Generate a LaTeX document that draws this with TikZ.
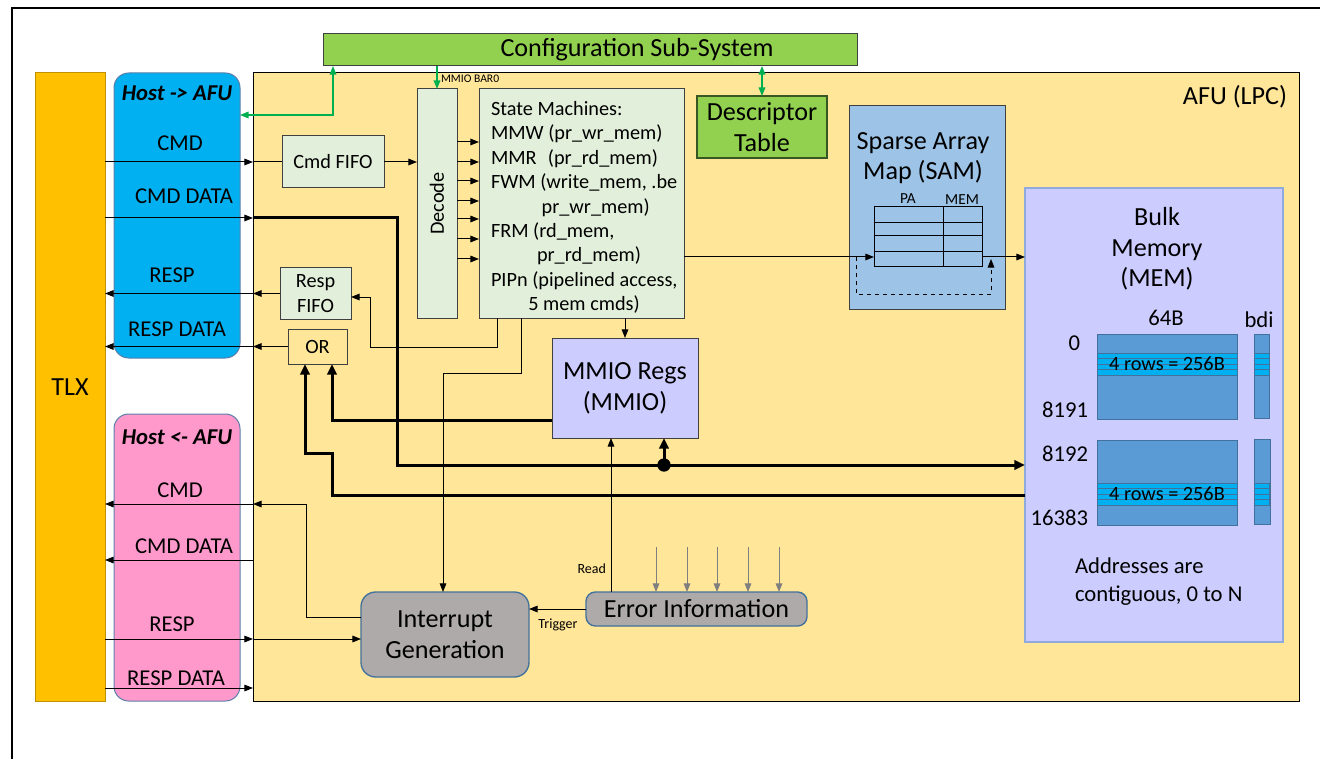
\documentclass[tikz,border=0pt]{standalone}
\usepackage{fontspec}
\setmainfont{Carlito}
\usetikzlibrary{arrows.meta}

\definecolor{tlx-orange}{RGB}{255,192,0}
\definecolor{tlx-edge}{RGB}{191,144,0}
\definecolor{host-blue}{RGB}{0,176,240}
\definecolor{host-pink}{RGB}{255,153,204}
\definecolor{lane-edge}{RGB}{91,127,170}
\definecolor{afu-yellow}{RGB}{255,230,153}
\definecolor{cfg-green}{RGB}{146,208,80}
\definecolor{cfg-edge}{RGB}{56,87,35}
\definecolor{link-green}{RGB}{0,176,80}
\definecolor{pale-green}{RGB}{226,239,218}
\definecolor{box-edge}{RGB}{64,64,64}
\definecolor{mmio-lilac}{RGB}{204,204,255}
\definecolor{sam-blue}{RGB}{157,195,230}
\definecolor{blk-blue}{RGB}{91,155,213}
\definecolor{blk-edge}{RGB}{65,113,156}
\definecolor{mem-edge}{RGB}{143,170,220}
\definecolor{intr-gray}{RGB}{174,170,170}
\definecolor{err-arrow}{RGB}{127,127,127}

\newcommand\hugetxt{\fontsize{19.6}{23}\selectfont}
\newcommand\numtxt{\fontsize{17}{21}\selectfont}
\newcommand\lanetxt{\fontsize{17}{20}\selectfont}
\newcommand\boxtxt{\fontsize{15.2}{18.3}\selectfont}
\newcommand\tabtxt{\fontsize{11.5}{13}\selectfont}
\newcommand\tagtxt{\fontsize{10.5}{12}\selectfont}
\newcommand\tinytxt{\fontsize{8.7}{10}\selectfont}

\begin{document}
\begin{tikzpicture}[
        x=0.75pt, y=-0.75pt,
        >={Triangle[length=6.5pt,width=5pt]},
        every node/.style={inner sep=0pt, outer sep=0pt, align=center},
        sz/.style 2 args={minimum width=#1*0.75pt, minimum height=#2*0.75pt},
        box/.style={draw=box-edge, line width=0.75pt, fill=#1},
        lane/.style={draw=lane-edge, line width=0.75pt, fill=#1, rounded corners=11pt},
        soft/.style={draw=blk-edge, line width=1pt, fill=intr-gray, rounded corners=#1},
        wire/.style={line width=0.75pt},
        bus/.style={line width=2.25pt},
        bushead/.style={-{Triangle[length=8pt,width=7pt]}},
        link/.style={draw=link-green, line width=1.1pt},
        feed/.style={draw=err-arrow, line width=0.75pt},
    ]
    \useasboundingbox (0,0) rectangle (1320,759);
    \draw[line width=1.6pt] (12,759) -- (12,8) -- (1320,8);

    % host side
    \node[draw=black, line width=0.75pt, fill=afu-yellow, sz={1046}{628}] (afu) at (776,387) {};
    \node[anchor=east, font=\hugetxt] (afu-title) at (1287,97) {AFU (LPC)};
    \node[draw=tlx-edge, line width=0.75pt, fill=tlx-orange, sz={70}{628}, font=\hugetxt] (tlx) at (70,387) {TLX};
    \node[lane=host-blue, sz={126}{285}] (hostin) at (177,215.5) {};
    \node[lane=host-pink, sz={126}{287}] (hostout) at (177,557.5) {};
    \node[font=\lanetxt\bfseries\itshape] (hostin-title) at (177,93) {Host -> AFU};
    \node[font=\lanetxt\bfseries\itshape] (hostout-title) at (177,437) {Host <- AFU};
    \node[font=\lanetxt] at (180,143) {CMD};
    \node[font=\lanetxt] at (184,196) {CMD DATA};
    \node[font=\lanetxt] at (172,275) {RESP};
    \node[font=\lanetxt] at (177,329) {RESP DATA};
    \node[font=\lanetxt] at (180,490) {CMD};
    \node[font=\lanetxt] at (184,546) {CMD DATA};
    \node[font=\lanetxt] at (172,624) {RESP};
    \node[font=\lanetxt] at (176,678) {RESP DATA};

    % config
    \node[box=cfg-green, sz={534}{32}] (config) at (590,50) {};
    \node[font=\hugetxt] (config-title) at (637,50) {Configuration Sub-System};
    \node[draw=cfg-edge, line width=1pt, fill=cfg-green, sz={130}{62}, font=\hugetxt] (desc) at (762,127) {Descriptor\\Table};

    % command path
    \node[box=pale-green, sz={102}{52}, font=\boxtxt] (cmdfifo) at (333,162) {Cmd FIFO};
    \node[box=pale-green, sz={71}{51}, font=\boxtxt] (respfifo) at (315.5,293.5) {Resp\\FIFO};
    \node[draw=box-edge, line width=0.75pt, sz={59}{35}, font=\boxtxt] (or) at (317.5,346.5) {OR};
    \node[box=pale-green, sz={40}{229}] (decode) at (437,203.5) {};
    \node[rotate=90, font=\boxtxt] at (decode) {Decode};
    \node[box=pale-green, sz={205}{229}] (sm) at (581.5,203.5) {};
    \node[anchor=west, align=left, font=\boxtxt] (sm-text) at (491,207.5) {State Machines:\\
        MMW (pr\_wr\_mem)\\
        MMR\hspace{5pt} (pr\_rd\_mem)\\
        FWM (write\_mem, .be\\
        \hspace*{38pt}pr\_wr\_mem)\\
        FRM (rd\_mem,\\
        \hspace*{34.5pt}pr\_rd\_mem)\\
        PIPn (pipelined access,\\
        \hspace*{28pt}5 mem cmds)};
    \node[box=mmio-lilac, sz={146}{100}, font=\hugetxt] (mmio) at (625,388) {MMIO Regs\\(MMIO)};
    \node[soft=11pt, sz={168}{85}, font=\hugetxt] (intr) at (445,634.5) {Interrupt\\Generation};
    \node[soft=7pt, sz={221}{34}, font=\hugetxt] (err) at (696.5,609) {Error Information};

    % sparse array map
    \node[box=sam-blue, sz={156}{203}] (sam) at (927,207.5) {};
    \node[font=\hugetxt] (sam-title) at (923,158) {Sparse Array\\Map (SAM)};
    \node[draw=black, line width=0.75pt, sz={108}{60}] (samtab) at (928,237) {};
    \foreach \r in {223,236,252}
        \draw[wire] (874,\r) -- (982,\r);
    \draw[wire] (943,207) -- (943,267);
    \node[font=\tabtxt] at (908,199) {PA};
    \node[font=\tabtxt] at (962,200) {MEM};

    % bulk memory
    \node[draw=mem-edge, line width=1pt, fill=mmio-lilac, sz={258}{454}] (bulk) at (1154,415) {};
    \node[font=\hugetxt] (bulk-title) at (1157,249) {Bulk\\Memory\\(MEM)};
    \node[font=\numtxt] at (1166,318) {64B};
    \node[font=\numtxt] at (1259,320) {bdi};
    \node[draw=blk-edge, line width=0.75pt, fill=blk-blue, sz={140}{85}] (blk0) at (1167,376.5) {};
    \node[draw=blk-edge, line width=0.75pt, fill=blk-blue, sz={140}{85}] (blk1) at (1167,482.5) {};
    \node[draw=blk-edge, line width=0.75pt, fill=blk-blue, sz={15}{84}] (bdi0) at (1261.5,376) {};
    \node[draw=blk-edge, line width=0.75pt, fill=blk-blue, sz={16}{85}] (bdi1) at (1262,481.5) {};
    \foreach \t in {353,483}
        \foreach \r in {0,...,3} {
            \draw[draw=blk-edge, line width=0.5pt, fill=host-blue] (1097,\t+\r*5.6) rectangle (1237,\t+\r*5.6+5.6);
            \draw[draw=blk-edge, line width=0.5pt, fill=host-blue] (1254,\t+\r*5.6) rectangle (1269,\t+\r*5.6+5.6);
        }
    \node[font=\boxtxt] at (1167,364) {4 rows = 256B};
    \node[font=\boxtxt] at (1167,494) {4 rows = 256B};
    \node[anchor=east, font=\numtxt] at (1080,343) {0};
    \node[anchor=east, font=\numtxt] at (1088,410) {8191};
    \node[anchor=east, font=\numtxt] at (1088,454) {8192};
    \node[anchor=east, font=\numtxt] at (1088,518) {16383};
    \node[anchor=west, align=left, font=\numtxt] at (1075,582) {Addresses are\\contiguous, 0 to N};

    % config links
    \draw[link,<->] (333,0 |- config.south) |- (hostin.east |- 0,115);
    \draw[link,->] (config.south -| decode.north) -- (decode.north);
    \node[anchor=west, font=\tinytxt] at (441,79) {MMIO BAR0};
    \draw[link,<->] (config.south -| desc.north) -- (desc.north);

    % host -> afu
    \draw[wire,->] (tlx.east |- cmdfifo.west) -- (afu.west |- cmdfifo.west);
    \draw[wire] (afu.west |- cmdfifo.west) -- (cmdfifo.west);
    \draw[wire,->] (cmdfifo.east) -- (cmdfifo.east -| decode.west);
    \foreach \y in {142,162,181,201,219,239,259}
        \draw[wire,->] (decode.east |- 0,\y) -- (sm.west |- 0,\y);
    \draw[wire,->] (tlx.east |- 0,218) -- (afu.west |- 0,218);
    \coordinate (dot) at (664,465);
    \draw[bus,bushead] (afu.west |- 0,218) -| (397,465) -- (bulk.west |- 0,465);
    \fill (dot) circle (5pt);
    \draw[bus,bushead] (dot) -- (dot |- mmio.south);

    % responses
    \draw[wire,->] (respfifo.west) -- (afu.west |- respfifo.west);
    \draw[wire,->] (afu.west |- respfifo.west) -- (tlx.east |- respfifo.west);
    \draw[wire,->] (497,0 |- sm.south) -- (497,347) -| (370,297) -- (respfifo.east |- 0,297);
    \draw[wire,->] (or.west) -- (afu.west |- or.west);
    \draw[wire,->] (afu.west |- or.west) -- (tlx.east |- or.west);
    \draw[bus,bushead] (mmio.west |- 0,420) -| (332,0 |- or.south);
    \draw[bus,bushead] (bulk.west |- 0,495) -- (332,495) |- (305,453) -- (305,0 |- or.south);
    \draw[wire,->] (mmio.north |- sm.south) -- (mmio.north);

    % sam lookup
    \draw[wire,->] (sm.east |- 0,257) -- (samtab.west |- 0,257);
    \draw[wire,->] (samtab.east |- 0,257) -- (bulk.west |- 0,257);
    \draw[wire,dashed,->] (856,257) |- (991,294) -- (991,259);

    % interrupts and errors
    \draw[wire,->] (521,0 |- sm.south) |- (443,373) -- (443,0 |- intr.north);
    \draw[wire,->] (611,0 |- err.north) -- (611,0 |- mmio.south);
    \node[anchor=east, font=\tagtxt] at (606,569) {Read};
    \draw[wire,->] (err.west) -- (intr.east |- err.west);
    \node[font=\tagtxt] at (558,625) {Trigger};
    \foreach \x in {656,687,717,748,779}
        \draw[feed,->] (\x,547) -- (\x,0 |- err.north);

    % afu -> host
    \draw[wire,->] (intr.west |- 0,617) -| (306,504) -- (afu.west |- 0,504);
    \draw[wire,->] (afu.west |- 0,504) -- (tlx.east |- 0,504);
    \draw[wire,->] (afu.west |- 0,560) -- (tlx.east |- 0,560);
    \draw[wire,->] (tlx.east |- 0,639) -- (afu.west |- 0,639);
    \draw[wire,->] (afu.west |- 0,639) -- (intr.west |- 0,639);
    \draw[wire,->] (tlx.east |- 0,688) -- (afu.west |- 0,688);
\end{tikzpicture}
\end{document}
